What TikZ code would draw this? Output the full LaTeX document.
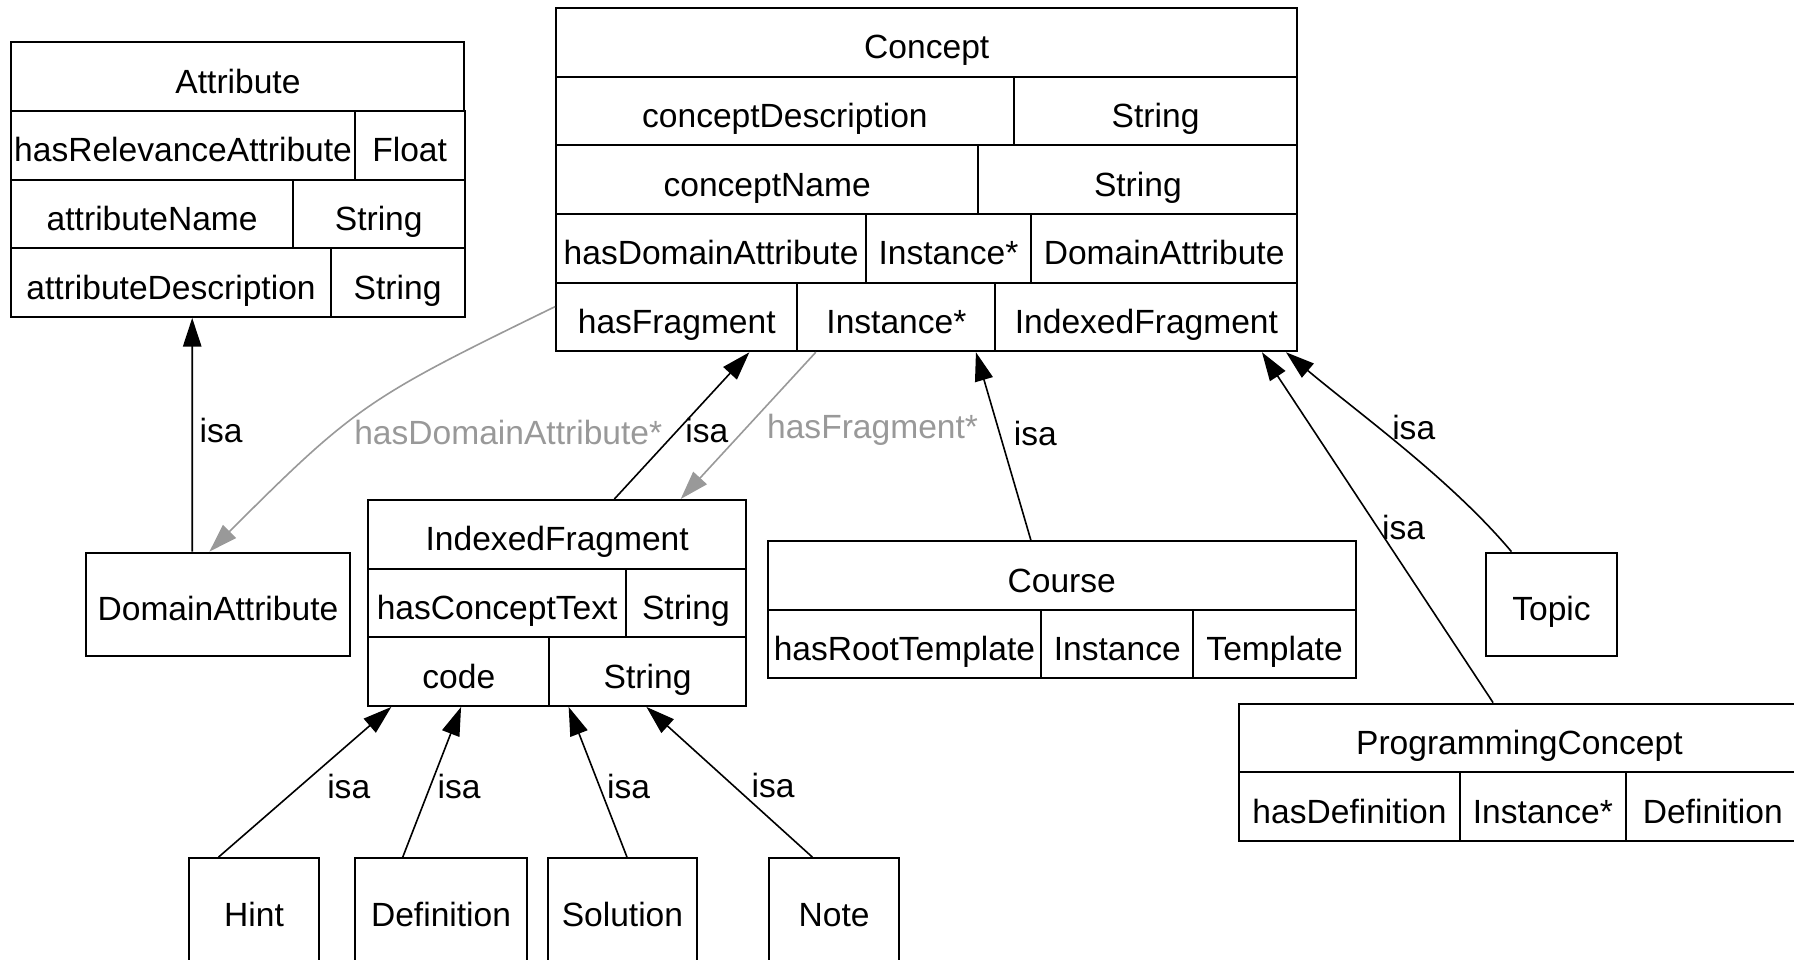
\documentclass[tikz,border=0pt]{standalone}
\usepackage{fontspec}
\setmainfont{Liberation Sans}
\usepackage{xcolor}
\usetikzlibrary{arrows.meta}
\definecolor{linkgray}{gray}{0.6}

\begin{document}
\begin{tikzpicture}[x=0.02cm,y=-0.02cm,font=\fontsize{16.7pt}{20pt}\selectfont,
  cell/.style={draw,line width=1pt,minimum height=1.2cm,inner sep=0,text height=0.66cm,text depth=0.08cm},
  box/.style={cell,minimum height=1.8cm},
  isa/.style={-{Triangle[length=0.5cm,width=0.32cm]},line width=0.8pt},
  link/.style={-{Triangle[length=0.5cm,width=0.32cm]},line width=0.8pt,draw=linkgray},
  linklabel/.style={text=linkgray}]
\useasboundingbox (0,0) rectangle (1568,839);
% Attribute
\node[cell,minimum width=7.92cm] (attr) at (208,67) {Attribute};
\node[cell,minimum width=6cm] (attrrel) at (160,127) {hasRelevanceAttribute};
\node[cell,minimum width=1.92cm] (attrrelt) at (358,127) {Float};
\node[cell,minimum width=4.92cm] (attrname) at (133,187) {attributeName};
\node[cell,minimum width=3cm] (attrnamet) at (331,187) {String};
\node[cell,minimum width=5.58cm] (attrdesc) at (149.5,247) {attributeDescription};
\node[cell,minimum width=2.34cm] (attrdesct) at (347.5,247) {String};
% Concept
\node[cell,minimum width=12.96cm] (concept) at (810,37) {Concept};
\node[cell,minimum width=8cm] (cdesc) at (686,97) {conceptDescription};
\node[cell,minimum width=4.96cm] (cdesct) at (1010,97) {String};
\node[cell,minimum width=7.38cm] (cname) at (670.5,157) {conceptName};
\node[cell,minimum width=5.58cm] (cnamet) at (994.5,157) {String};
\node[cell,minimum width=5.42cm] (cdom) at (621.5,217) {hasDomainAttribute};
\node[cell,minimum width=2.88cm] (cdomi) at (829,217) {Instance*};
\node[cell,minimum width=4.66cm] (cdomt) at (1017.5,217) {DomainAttribute};
\node[cell,minimum width=4.22cm] (cfrag) at (591.5,277) {hasFragment};
\node[cell,minimum width=3.46cm] (cfragi) at (783.5,277) {Instance*};
\node[cell,minimum width=5.28cm] (cfragt) at (1002,277) {IndexedFragment};
% DomainAttribute
\node[box,minimum width=4.62cm] (domattr) at (190.5,528) {DomainAttribute};
% IndexedFragment
\node[cell,minimum width=6.6cm] (ifrag) at (487,467) {IndexedFragment};
\node[cell,minimum width=4.5cm] (ifragtext) at (434.5,527) {hasConceptText};
\node[cell,minimum width=2.1cm] (ifragtextt) at (599.5,527) {String};
\node[cell,minimum width=3.16cm] (ifragcode) at (401,587) {code};
\node[cell,minimum width=3.44cm] (ifragcodet) at (566,587) {String};
% Course
\node[cell,minimum width=10.28cm] (course) at (928,503) {Course};
\node[cell,minimum width=4.78cm] (croot) at (790.5,563) {hasRootTemplate};
\node[cell,minimum width=2.66cm] (crooti) at (976.5,563) {Instance};
\node[cell,minimum width=2.84cm] (croott) at (1114,563) {Template};
% Topic
\node[box,minimum width=2.28cm] (topic) at (1356,528) {Topic};
% ProgrammingConcept
\node[cell,minimum width=9.8cm] (pconcept) at (1328,645) {ProgrammingConcept};
\node[cell,minimum width=3.86cm] (pcdef) at (1179.5,705) {hasDefinition};
\node[cell,minimum width=2.9cm] (pcdefi) at (1348.5,705) {Instance*};
\node[cell,minimum width=3.04cm] (pcdeft) at (1497,705) {Definition};
% fragment kinds
\node[box,minimum width=2.28cm] (hint) at (222,795) {Hint};
\node[box,minimum width=3.02cm] (defn) at (385.5,795) {Definition};
\node[box,minimum width=2.6cm] (solution) at (544,795) {Solution};
\node[box,minimum width=2.28cm] (note) at (729,795) {Note};
% isa links
\path ([xshift=-0.45cm]domattr.north) edge [isa] node[right,pos=0.52] {isa} ([xshift=0.37cm]attrdesc.south);
\path ([xshift=1cm]ifrag.north) edge [isa] node[right,pos=0.47] {isa} ([xshift=1.27cm]cfrag.south);
\path ([xshift=-0.54cm]course.north) edge [isa] node[right=0.12cm,pos=0.57] {isa} ([xshift=1.39cm]cfragi.south);
\path ([xshift=-0.46cm]pconcept.north) edge [isa] node[right=-0.05cm,pos=0.5] {isa} ([xshift=2.02cm]cfragt.south);
\path ([xshift=-0.7cm]topic.north) edge [isa,out=130,in=-40,looseness=0.8] node[right=0.1cm,pos=0.6] {isa} ([xshift=2.44cm]cfragt.south);
\path ([xshift=-0.62cm]hint.north) edge [isa] node[right=0.35cm,pos=0.47] {isa} ([xshift=-1.18cm]ifragcode.south);
\path ([xshift=-0.67cm]defn.north) edge [isa] node[right,pos=0.47] {isa} ([xshift=0.04cm]ifragcode.south);
\path ([xshift=0.08cm]solution.north) edge [isa] node[right,pos=0.47] {isa} ([xshift=-1.38cm]ifragcodet.south);
\path ([xshift=-0.38cm]note.north) edge [isa] node[right=0.2cm,pos=0.48] {isa} ([xshift=-0.02cm]ifragcodet.south);
% slot links
\path ([yshift=0.18cm]cfrag.west) edge [link,out=206,in=45,looseness=1.25] node[linklabel,right=0.2cm,pos=0.62] {hasDomainAttribute*} ([xshift=-0.15cm]domattr.north);
\path ([xshift=-1.41cm]cfragi.south) edge [link] node[linklabel,right=0.27cm,pos=0.53] {hasFragment*} ([xshift=2.16cm]ifrag.north);
\end{tikzpicture}
\end{document}
